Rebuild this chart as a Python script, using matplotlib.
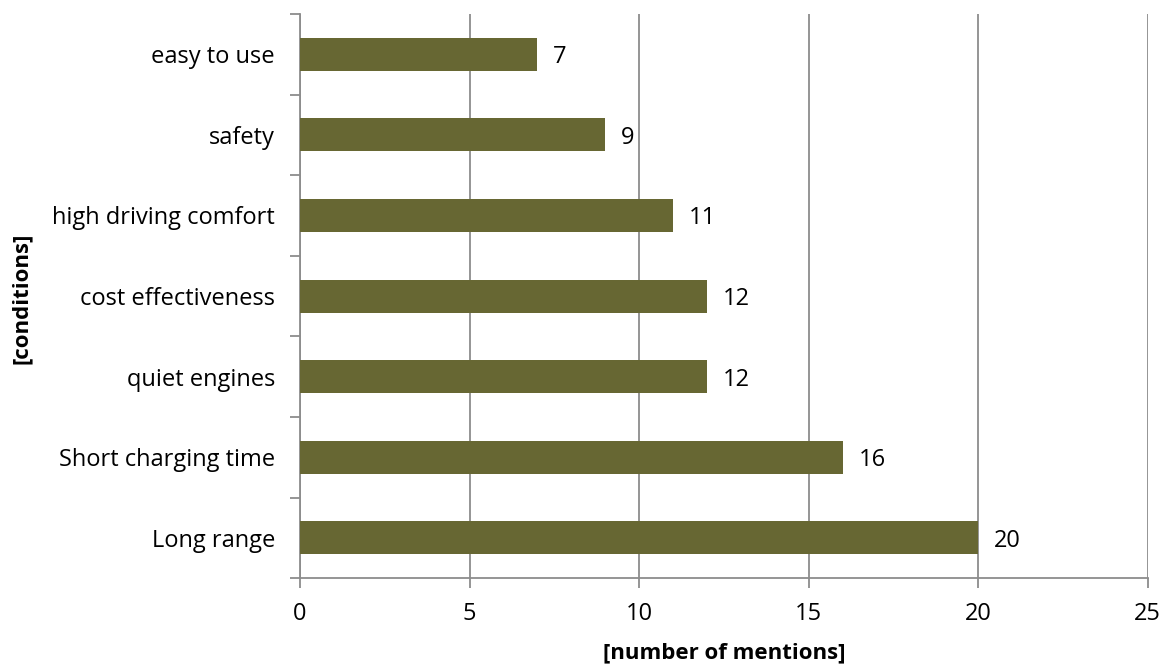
import matplotlib
matplotlib.use("Agg")
import matplotlib.pyplot as plt
from matplotlib.ticker import FixedLocator, NullFormatter

categories = ["Long range", "Short charging time", "quiet engines", "cost effectiveness",
              "high driving comfort", "safety", "easy to use"]
values = [20, 16, 12, 12, 11, 9, 7]
xticks = [0, 5, 10, 15, 20, 25]

plt.rcParams['font.family'] = ['Open Sans', 'DejaVu Sans']

fig = plt.figure(figsize=(11.7, 6.66), dpi=100)
ax = fig.add_axes([0.2564, 0.132, 0.981 - 0.2564, 0.979 - 0.132])

bar_color = "#676733"
grid_color = "#8c8c8c"
fs = 17
pos = list(range(len(categories)))
ax.barh(pos, values, height=0.41, color=bar_color, zorder=3)
for p, v in zip(pos, values):
    ax.annotate(str(v), xy=(v, p), xytext=(16, -3), textcoords="offset pixels",
                va="center", ha="left", fontsize=fs, color="black")

ax.set_xlim(0, 25)
ax.set_ylim(-0.5, len(categories) - 0.5)
ax.set_xticks(xticks)
ax.set_xticklabels([str(t) for t in xticks], fontsize=fs)
ax.set_yticks(pos)
ax.set_yticklabels(categories, fontsize=fs)
ax.tick_params(axis="y", which="major", length=0, pad=18)
ax.yaxis.set_minor_locator(FixedLocator([i - 0.5 for i in range(len(categories) + 1)]))
ax.yaxis.set_minor_formatter(NullFormatter())
ax.tick_params(axis="y", which="minor", length=7, color=grid_color, width=1.3, direction="out")
ax.tick_params(axis="x", which="major", length=7, color=grid_color, width=1.3, pad=10, direction="out")

ax.grid(axis="x", color=grid_color, linewidth=1.3, zorder=0)
for s in ["top", "right"]:
    ax.spines[s].set_visible(False)
for s in ["left", "bottom"]:
    ax.spines[s].set_color(grid_color)
    ax.spines[s].set_linewidth(1.3)

ax.set_xlabel("[number of mentions]", fontsize=16, fontweight="bold", labelpad=12)
fig.text(0.018, 1 - 298 / 666, "[conditions]", rotation=90, fontsize=16, fontweight="bold",
         va="center", ha="center")

fig.savefig("out.png", dpi=100, facecolor="white")
